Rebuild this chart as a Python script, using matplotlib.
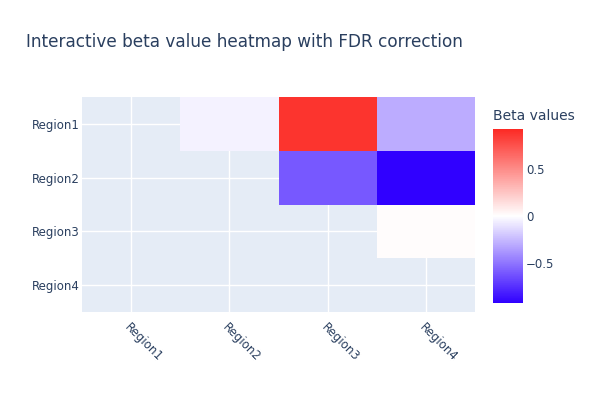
import numpy as np
import matplotlib.pyplot as plt
from matplotlib.colors import LinearSegmentedColormap

# Datos del heatmap (triangular superior, NaN = sin valor)
regions = ['Region1', 'Region2', 'Region3', 'Region4']
beta = np.array([
    [np.nan, -0.05, 0.88, -0.30],
    [np.nan, np.nan, -0.60, -0.925],
    [np.nan, np.nan, np.nan, 0.01],
    [np.nan, np.nan, np.nan, np.nan],
])
cbar_ticks = [-0.5, 0, 0.5]

plt.rcParams['font.family'] = ['DejaVu Sans']
text_color = '#2a3f5f'

cmap = LinearSegmentedColormap.from_list('bwr_plotly', ['#3000ff', '#ffffff', '#fc2a24'])
vmax = np.nanmax(np.abs(beta))

fig = plt.figure(figsize=(5.93, 3.95), dpi=100)
ax = fig.add_axes([0.1383, 0.2101, 0.663, 0.5443])
ax.set_facecolor('#e5ecf6')

n = len(regions)
edges = np.arange(n + 1) - 0.5
mesh = ax.pcolormesh(edges, edges, np.ma.masked_invalid(beta), cmap=cmap,
                     vmin=-vmax, vmax=vmax, zorder=2)
ax.set_xlim(-0.5, n - 0.5)
ax.set_ylim(n - 0.5, -0.5)

ax.set_xticks(range(n))
ax.set_yticks(range(n))
ax.set_xticklabels(regions, rotation=-45, ha='left', va='top', rotation_mode='anchor')
ax.set_yticklabels(regions)
ax.tick_params(axis='x', length=0, labelsize=8.5, colors=text_color, pad=6)
ax.tick_params(axis='y', length=0, labelsize=8.5, colors=text_color, pad=1.5)
ax.grid(True, color='white', linewidth=1, zorder=1)
ax.set_axisbelow(True)
for s in ax.spines.values():
    s.set_visible(False)

fig.text(26 / 593, 1 - 42 / 395, 'Interactive beta value heatmap with FDR correction',
         fontsize=12.2, color=text_color, va='center', ha='left')

cax = fig.add_axes([0.8314, 0.2329, 0.0506, 0.4405])
cb = fig.colorbar(mesh, cax=cax, ticks=cbar_ticks)
cb.outline.set_visible(False)
cb.ax.tick_params(length=0, labelsize=8.5, colors=text_color, pad=2)
cb.ax.set_yticklabels(['\u22120.5', '0', '0.5'])
fig.text(493 / 593, 1 - 116 / 395, 'Beta values', fontsize=10, color=text_color,
         va='center', ha='left')

plt.savefig('out.png', dpi=100)
